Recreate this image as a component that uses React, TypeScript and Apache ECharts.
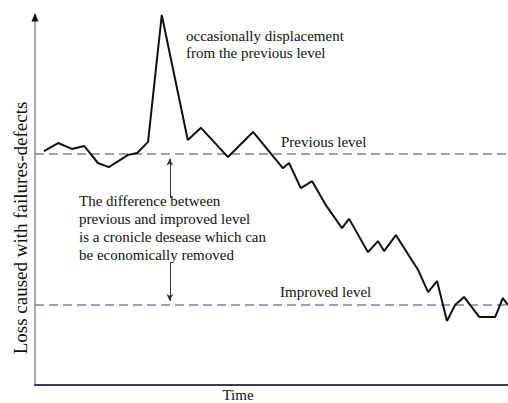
import React, { useEffect, useRef } from "react";
import * as echarts from "echarts";

// Time positions (0..100 along the time axis) and loss values (0..100)
const timeValues = [1.9, 4.9, 7.8, 10.4, 13.3, 15.6, 19.7, 21.6, 23.9, 26.8, 32.3, 35.1, 40.8, 46.1, 52.4, 53.7, 56.2, 58.6, 61.5, 64.9, 66.4, 70.4, 72.5, 73.8, 76.3, 81.0, 83.1, 85.0, 87.1, 88.8, 90.7, 93.9, 97.3, 98.9, 100];
const lossValues = [63.2, 65.4, 63.8, 64.6, 60.0, 58.9, 62.2, 62.7, 65.7, 100, 66.2, 69.5, 61.6, 68.4, 58.6, 60.0, 53.2, 55.1, 48.6, 42.4, 44.9, 35.9, 38.9, 36.2, 40.5, 31.1, 25.1, 28.1, 17.3, 21.6, 23.8, 18.4, 18.4, 23.5, 21.6];

const previousLevel = 62.4;
const improvedLevel = 21.6;
const levelRange = [0, 100];

// double arrow between levels (x position and gap where the text sits)
const arrowTime = 28.5;
const arrowTop = 61.2;
const arrowGapTop = 50.5;
const arrowGapBottom = 33.0;
const arrowBottom = 22.7;

const yAxisTitle = "Loss caused with failures-defects";
const xAxisTitle = "Time";
const spikeNote = ["occasionally displacement", "from the previous level"];
const differenceNote = [
  "The difference between",
  "previous and improved level",
  "is a cronicle desease which can",
  "be economically removed",
];
const previousLabel = "Previous level";
const improvedLabel = "Improved level";

const FONT = "'Liberation Serif', 'Times New Roman', 'DejaVu Serif', serif";

export default function App() {
  const ref = useRef<HTMLDivElement>(null);

  useEffect(() => {
    if (!ref.current) return;
    const chart = echarts.init(ref.current, null, { renderer: "svg" });

    const textStyle = (text: string, x: number, y: number) => ({
      type: "text",
      x,
      y,
      silent: true,
      style: {
        text,
        fill: "#111",
        font: `15px ${FONT}`,
        textVerticalAlign: "middle",
        verticalAlign: "middle",
        align: "left",
      },
    });

    const graphics: any[] = [
      {
        type: "polygon",
        silent: true,
        shape: { points: [[35, 13], [31.5, 21.5], [38.5, 21.5]] },
        style: { fill: "#111" },
        z: 10,
      },
      ...spikeNote.map((t, i) => textStyle(t, 186, 35.5 + i * 17)),
      ...differenceNote.map((t, i) => textStyle(t, 79, 201 + i * 18)),
      textStyle(previousLabel, 281, 142),
      textStyle(improvedLabel, 280, 292),
    ];

    const levelSeries = (name: string, level: number, extra: any = {}) => ({
      name,
      type: "line",
      data: levelRange.map((t) => [t, level]),
      symbol: "none",
      silent: true,
      lineStyle: { color: "#857c9e", width: 1.5, type: [9, 5] },
      z: 1,
      ...extra,
    });

    chart.setOption({
      animation: false,
      grid: { left: 35, right: 0, top: 15, bottom: 18, outerBoundsMode: "none" },
      xAxis: {
        type: "value",
        min: 0,
        max: 100,
        name: xAxisTitle,
        nameLocation: "middle",
        nameGap: 3,
        nameTextStyle: {
          fontFamily: FONT,
          fontSize: 15,
          lineHeight: 14,
          color: "#111",
          padding: [0, 67, 0, 0],
        },
        axisLine: { show: true, lineStyle: { color: "#3a3a55", width: 2 } },
        axisTick: { show: false },
        axisLabel: { show: false },
        splitLine: { show: false },
      },
      yAxis: {
        type: "value",
        min: 0,
        max: 100,
        name: yAxisTitle,
        nameLocation: "middle",
        nameGap: 5,
        nameTextStyle: { fontFamily: FONT, fontSize: 19, color: "#111", padding: [0, 56, 0, 0] },
        axisLine: { show: true, lineStyle: { color: "#8d8d9c", width: 1.5 } },
        axisTick: { show: false },
        axisLabel: { show: false },
        splitLine: { show: false },
      },
      graphic: graphics,
      series: [
        levelSeries(previousLabel, previousLevel, {
          markLine: {
            silent: true,
            animation: false,
            symbolSize: [5, 7],
            label: { show: false },
            lineStyle: { color: "#333", width: 1, type: "solid" },
            data: [
              [
                { coord: [arrowTime, arrowTop], symbol: "arrow" },
                { coord: [arrowTime, arrowGapTop], symbol: "none" },
              ],
              [
                { coord: [arrowTime, arrowGapBottom], symbol: "none" },
                { coord: [arrowTime, arrowBottom], symbol: "arrow" },
              ],
            ],
          },
        }),
        levelSeries(improvedLabel, improvedLevel),
        {
          name: "Loss",
          type: "line",
          data: timeValues.map((t, i) => [t, lossValues[i]]),
          symbol: "none",
          clip: false,
          lineStyle: { color: "#111", width: 2 },
          z: 5,
        },
      ],
    });

    return () => chart.dispose();
  }, []);

  return (
    <div
      ref={ref}
      style={{ position: "fixed", left: 0, top: 0, width: 508, height: 403, background: "#fff" }}
    />
  );
}
